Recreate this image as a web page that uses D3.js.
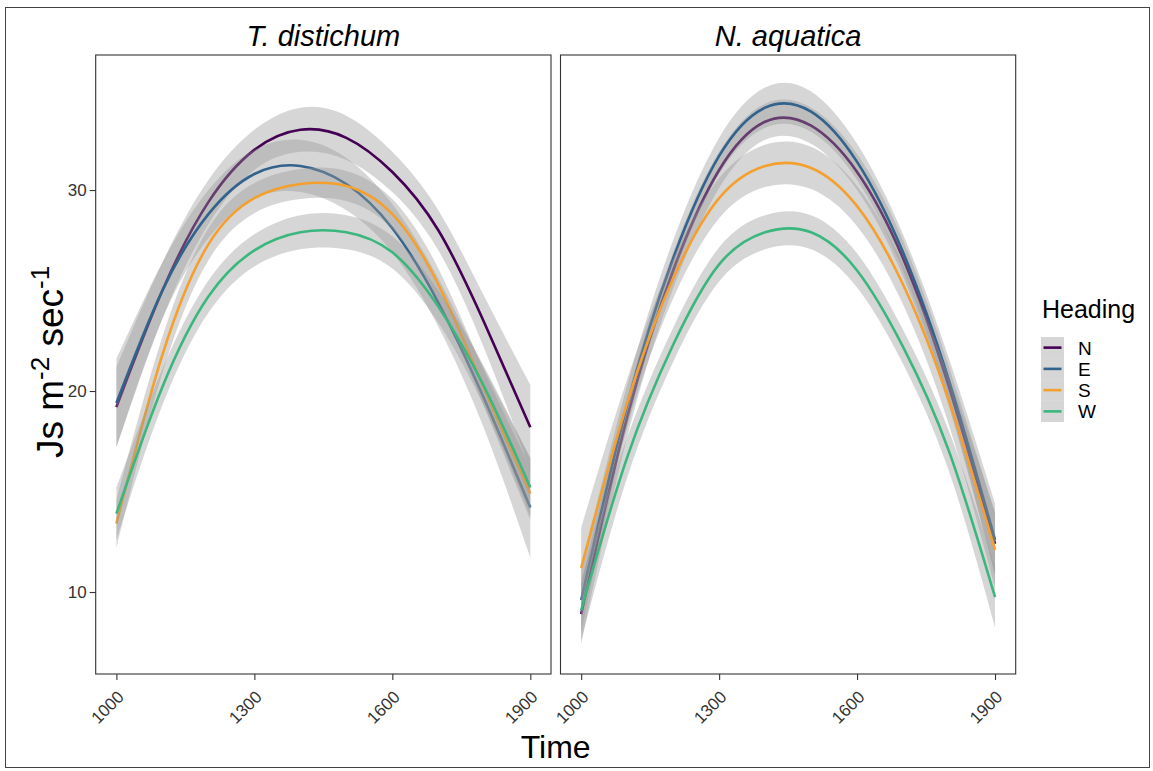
<!DOCTYPE html>
<html lang="en">
  <head>
    <meta charset="UTF-8" />
    <title>Js by heading</title>
    <style>
      body { margin: 0; background: #fff; }
      svg text { font-family: 'Liberation Sans', Arial, sans-serif; }
    </style>
  </head>
  <body>
    <svg id="svg" width="1153" height="771"></svg>

    <script src="https://d3js.org/d3.v7.min.js"></script>
    <script>
      // data
      const times = [1000, 1100, 1200, 1300, 1400, 1500, 1600, 1700, 1800, 1900];
      const headings = ['N', 'E', 'S', 'W'];
      const species = ['T. distichum', 'N. aquatica'];
      const xTicks = [1000, 1300, 1600, 1900];
      const yTicks = [10, 20, 30];

      // T. distichum fitted values and ribbon half-widths
      const tdN = [19.2, 25.0, 29.4, 32.0, 33.0, 32.6, 30.9, 28.0, 23.4, 18.2];
      const tdE = [19.4, 25.0, 28.8, 30.8, 31.2, 30.3, 28.1, 24.4, 19.6, 14.2];
      const tdS = [13.4, 21.8, 27.3, 29.6, 30.3, 30.2, 28.8, 25.3, 20.1, 14.9];
      const tdW = [13.9, 20.2, 24.7, 27.0, 27.9, 27.9, 26.9, 24.2, 20.2, 15.2];
      const tdNse = [2.0, 1.4, 1.1, 1.0, 1.1, 1.1, 1.0, 1.0, 1.3, 2.1];
      const tdEse = [2.2, 1.4, 1.2, 1.2, 1.3, 1.3, 1.2, 1.2, 1.5, 2.5];
      const tdSse = [1.2, 0.9, 0.8, 0.75, 0.75, 0.75, 0.75, 0.8, 0.9, 1.3];
      const tdWse = [1.3, 0.9, 0.8, 0.8, 0.85, 0.85, 0.8, 0.8, 1.0, 1.4];

      // N. aquatica
      const naN = [8.9, 18.7, 26.0, 31.0, 33.4, 33.2, 30.9, 26.6, 20.2, 12.4];
      const naE = [9.6, 19.3, 26.6, 31.7, 34.1, 33.9, 31.4, 26.9, 20.5, 12.6];
      const naS = [11.2, 19.4, 25.6, 29.6, 31.2, 31.1, 29.2, 25.3, 19.5, 12.1];
      const naW = [9.1, 16.7, 22.3, 26.3, 27.9, 27.9, 26.0, 22.2, 17.0, 9.75];
      const naNse = [1.5, 1.0, 0.9, 0.9, 0.9, 0.9, 0.9, 0.9, 1.0, 1.5];
      const naEse = [1.6, 1.0, 0.9, 0.9, 1.0, 1.0, 0.9, 0.9, 1.1, 1.8];
      const naSse = [2.0, 1.2, 1.0, 1.0, 1.05, 1.05, 1.0, 1.0, 1.2, 1.9];
      const naWse = [1.5, 1.0, 0.85, 0.85, 0.85, 0.85, 0.85, 0.85, 1.0, 1.5];

      const colors = { N: '#440154', E: '#33638d', S: '#f4a02f', W: '#3bb77e' };

      const panels = [
        { title: species[0], fit: [tdN, tdE, tdS, tdW], se: [tdNse, tdEse, tdSse, tdWse], x0: 95.7, x1: 551 },
        { title: species[1], fit: [naN, naE, naS, naW], se: [naNse, naEse, naSse, naWse], x0: 560.5, x1: 1015.7 }
      ];

      const panelTop = 55, panelBottom = 674;
      const svg = d3.select('#svg');

      // outer frame
      svg.append('rect')
        .attr('x', 5.5).attr('y', 7.5)
        .attr('width', 1144).attr('height', 760)
        .attr('fill', 'none').attr('stroke', '#444').attr('stroke-width', 1);

      const y = d3.scaleLinear().domain([5.92, 36.72]).range([panelBottom, panelTop]);

      panels.forEach((p) => {
        const x = d3.scaleLinear().domain([955, 1945]).range([p.x0, p.x1]);
        const g = svg.append('g');

        // each group: ribbon then line, like geom_smooth
        headings.forEach((h, i) => {
          const rows = times.map((t, j) => ({ t: t, v: p.fit[i][j], se: p.se[i][j] }));
          g.append('path')
            .datum(rows)
            .attr('fill', 'rgba(153,153,153,0.4)')
            .attr('d', d3.area()
              .curve(d3.curveNatural)
              .x((d) => x(d.t))
              .y0((d) => y(d.v - d.se))
              .y1((d) => y(d.v + d.se)));
          g.append('path')
            .datum(rows)
            .attr('fill', 'none')
            .attr('stroke', colors[h])
            .attr('stroke-width', 2.6)
            .attr('d', d3.line()
              .curve(d3.curveNatural)
              .x((d) => x(d.t))
              .y((d) => y(d.v)));
        });

        // panel border
        svg.append('rect')
          .attr('x', p.x0).attr('y', panelTop)
          .attr('width', p.x1 - p.x0).attr('height', panelBottom - panelTop)
          .attr('fill', 'none').attr('stroke', '#333').attr('stroke-width', 1.1);

        // x axis
        const xa = svg.append('g')
          .attr('transform', `translate(0,${panelBottom})`)
          .call(d3.axisBottom(x).tickValues(xTicks).tickSize(6).tickFormat(d3.format('d')));
        xa.select('.domain').remove();
        xa.selectAll('line').attr('stroke', '#333').attr('stroke-width', 1.1);
        xa.selectAll('text')
          .attr('fill', '#333')
          .attr('font-size', 17)
          .style('font-size', '17px')
          .attr('text-anchor', 'end')
          .attr('y', 0).attr('dy', 0)
          .attr('transform', 'translate(8,24) rotate(-45)');

        // strip title
        svg.append('text')
          .attr('x', (p.x0 + p.x1) / 2).attr('y', 46)
          .attr('text-anchor', 'middle')
          .style('font-size', '29px')
          .style('font-style', 'italic')
          .text(p.title);
      });

      // y axis on left panel only
      const ya = svg.append('g')
        .attr('transform', `translate(${panels[0].x0},0)`)
        .call(d3.axisLeft(y).tickValues(yTicks).tickSize(6));
      ya.select('.domain').remove();
      ya.selectAll('line').attr('stroke', '#333').attr('stroke-width', 1.1);
      ya.selectAll('text').attr('fill', '#333').style('font-size', '17px').attr('x', -9);

      // axis titles
      svg.append('text')
        .attr('x', 555.7).attr('y', 758)
        .attr('text-anchor', 'middle')
        .style('font-size', '32px')
        .text('Time');

      const yt = svg.append('text')
        .attr('transform', 'translate(63,362) rotate(-90)')
        .attr('text-anchor', 'middle')
        .style('font-size', '37px');
      yt.append('tspan').text('Js m');
      yt.append('tspan').attr('dy', -14).style('font-size', '26px').text('-2');
      yt.append('tspan').attr('dy', 14).text(' sec');
      yt.append('tspan').attr('dy', -14).style('font-size', '26px').text('-1');

      // legend
      const lg = svg.append('g').attr('transform', 'translate(1030,0)');
      lg.append('text')
        .attr('x', 12).attr('y', 318)
        .style('font-size', '25px')
        .text('Heading');
      const keyY = d3.scaleBand().domain(headings).range([337, 422]);
      headings.forEach((h) => {
        lg.append('rect')
          .attr('x', 11).attr('y', keyY(h))
          .attr('width', 23).attr('height', keyY.bandwidth())
          .attr('fill', 'rgba(153,153,153,0.4)');
        lg.append('line')
          .attr('x1', 13.5).attr('x2', 31.5)
          .attr('y1', keyY(h) + keyY.bandwidth() / 2)
          .attr('y2', keyY(h) + keyY.bandwidth() / 2)
          .attr('stroke', colors[h]).attr('stroke-width', 2.6);
        lg.append('text')
          .attr('x', 48).attr('y', keyY(h) + keyY.bandwidth() / 2 + 7)
          .style('font-size', '19px')
          .text(h);
      });
    </script>
  </body>
</html>
